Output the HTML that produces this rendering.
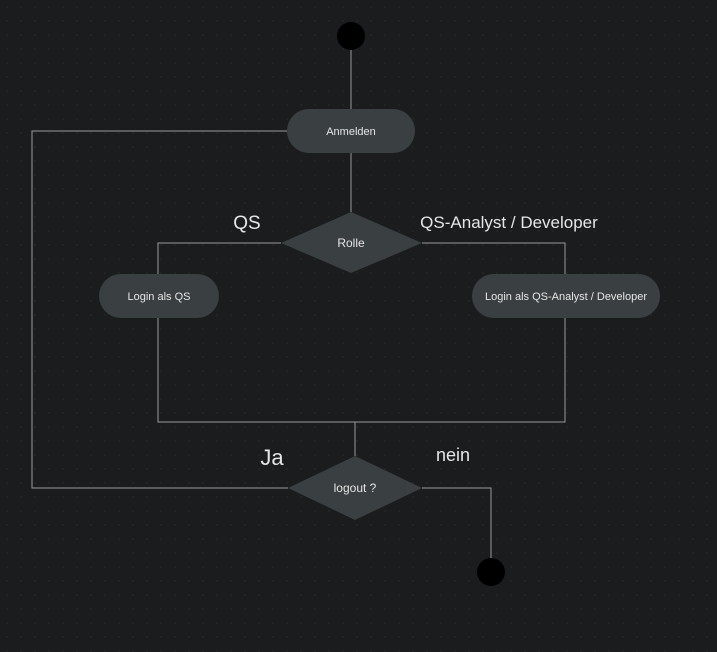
<!DOCTYPE html>
<html><head><style>
html,body{margin:0;padding:0;background:#1b1c1e;}
svg{display:block;}
text{font-family:"Liberation Sans",sans-serif;fill:#e6e6e6;}
</style></head><body>
<svg width="717" height="652" viewBox="0 0 717 652" xmlns="http://www.w3.org/2000/svg">
<defs><pattern id="g" width="14" height="14" patternUnits="userSpaceOnUse"><circle cx="7" cy="7" r="0.7" fill="#2c2e31"/></pattern></defs>
<rect width="717" height="652" fill="#1b1c1e"/>
<rect width="717" height="652" fill="url(#g)"/>
<g stroke="#9a9a9a" stroke-width="1" fill="none">
<path d="M351 50V109"/>
<path d="M351 153V212"/>
<path d="M281 243H158V274"/>
<path d="M422 243H565V274"/>
<path d="M158 318V422H565V318"/>
<path d="M355 422V456"/>
<path d="M288 488H32V131H287"/>
<path d="M422 488H491V558"/>
</g>
<circle cx="351" cy="36" r="14" fill="#000"/>
<circle cx="491" cy="572" r="14" fill="#000"/>
<rect x="287" y="109" width="128" height="44" rx="22" fill="#3a3f42"/>
<text x="351" y="135" font-size="11" text-anchor="middle">Anmelden</text>
<polygon points="281,243 351,212 422,243 351,273" fill="#3a3f42"/>
<text x="351" y="247" font-size="12" text-anchor="middle">Rolle</text>
<rect x="99" y="274" width="120" height="44" rx="22" fill="#3a3f42"/>
<text x="159" y="300" font-size="11" text-anchor="middle">Login als QS</text>
<rect x="472" y="274" width="188" height="44" rx="22" fill="#3a3f42"/>
<text x="566" y="300" font-size="11" text-anchor="middle">Login als QS-Analyst / Developer</text>
<polygon points="288,488 355,456 422,488 355,520" fill="#3a3f42"/>
<text x="355" y="492" font-size="12" text-anchor="middle">logout ?</text>
<text x="247" y="229" font-size="19" text-anchor="middle">QS</text>
<text x="509" y="228" font-size="17" text-anchor="middle">QS-Analyst / Developer</text>
<text x="272" y="465" font-size="22" text-anchor="middle">Ja</text>
<text x="453" y="461" font-size="18" text-anchor="middle">nein</text>
</svg>
</body></html>
